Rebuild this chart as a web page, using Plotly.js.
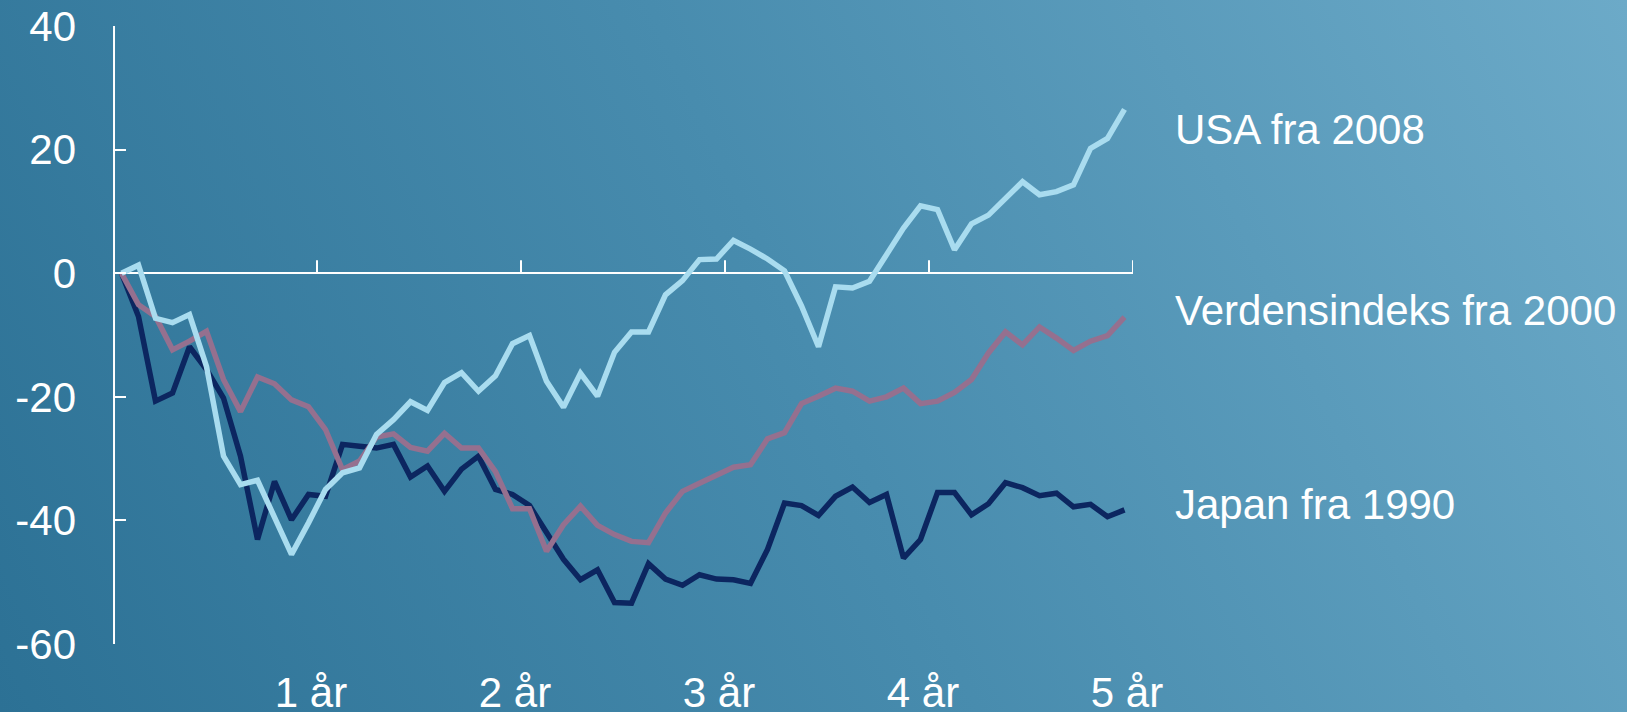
<!DOCTYPE html>
<html>
<head>
<meta charset="utf-8">
<script src="https://cdn.plot.ly/plotly-3.0.1.min.js"></script>
<style>
  html, body { margin: 0; padding: 0; }
  #chart {
    width: 1627px; height: 712px;
    background: linear-gradient(65deg, rgb(44,113,149) 0%, rgb(72,140,174) 50%, rgb(108,170,200) 100%);
  }
</style>
</head>
<body>
<div id="chart"></div>
<script>
const months = Array.from({length: 60}, (_, i) => i);

const usa2008 = [0, 1.3, -7.3, -8.0, -6.7, -15.1, -29.6, -34.2, -33.5, -39.3,
  -45.5, -40.4, -35.0, -32.3, -31.5, -26.1, -23.7, -20.8, -22.2, -17.7,
  -16.1, -19.1, -16.6, -11.4, -10.1, -17.5, -21.7, -16.2, -19.9, -12.8,
  -9.5, -9.5, -3.5, -1.2, 2.2, 2.3, 5.3, 3.9, 2.3, 0.4,
  -5.3, -11.9, -2.2, -2.4, -1.3, 3.0, 7.3, 10.9, 10.3, 3.8,
  8.0, 9.4, 12.0, 14.8, 12.7, 13.2, 14.3, 20.2, 21.8, 26.5];

const verden2000 = [0, -5.1, -7.0, -12.4, -11.0, -9.4, -17.2, -22.4, -16.8, -17.9,
  -20.5, -21.6, -25.3, -31.8, -30.4, -26.5, -26.0, -28.2, -28.8, -25.9,
  -28.3, -28.3, -32.1, -38.1, -38.1, -45.0, -40.7, -37.7, -40.8, -42.3,
  -43.4, -43.6, -38.8, -35.3, -34.0, -32.7, -31.4, -31.0, -26.8, -25.8,
  -21.1, -19.9, -18.6, -19.1, -20.7, -20.0, -18.6, -21.1, -20.7, -19.3,
  -17.2, -12.9, -9.5, -11.6, -8.7, -10.5, -12.5, -11.0, -10.1, -7.1];

const japan1990 = [0, -7.0, -20.7, -19.4, -11.9, -15.6, -20.2, -29.6, -43.1, -33.7,
  -39.9, -35.8, -36.1, -27.7, -28.0, -28.3, -27.7, -33.0, -31.2, -35.3,
  -31.7, -29.6, -35.0, -35.8, -37.6, -41.8, -46.3, -49.6, -48.0, -53.3,
  -53.4, -47.0, -49.5, -50.5, -48.8, -49.5, -49.6, -50.2, -44.7, -37.2,
  -37.6, -39.2, -36.1, -34.6, -37.1, -35.8, -46.1, -43.1, -35.5, -35.5,
  -39.1, -37.3, -33.9, -34.7, -36.0, -35.6, -37.8, -37.4, -39.4, -38.3];

const seriesNames = ['USA fra 2008', 'Verdensindeks fra 2000', 'Japan fra 1990'];
const seriesLabelY = [23.3, -6.0, -37.5];
const yearTickVals = [11.5, 23.5, 35.5, 47.5, 59.5];
const yearTickText = ['1 år', '2 år', '3 år', '4 år', '5 år'];
const yTickVals = [-60, -40, -20, 0, 20, 40];
const yTickText = ['-60', '-40', '-20', '0', '20', '40'];

const colors = ['#a9dcef', '#95708f', '#0c2660'];
const allSeries = [usa2008, verden2000, japan1990];
const FONT = '"Liberation Sans", Arial, sans-serif';

const traces = allSeries.map((vals, k) => ({
  type: 'scatter', mode: 'lines', x: months, y: vals, name: seriesNames[k],
  line: {color: colors[k], width: 5.5, shape: 'linear'},
  hoverinfo: 'skip'
})).reverse();

const shapes = yearTickVals.map(v => ({
  type: 'line', xref: 'x', yref: 'y', x0: v, x1: v,
  ysizemode: 'pixel', yanchor: 0, y0: 0, y1: 13,
  line: {color: 'white', width: 2}
}));
// y axis line
shapes.push({
  type: 'line', xref: 'x', yref: 'y', x0: -0.44, x1: -0.44, y0: -60, y1: 40,
  line: {color: 'white', width: 2}
});

const annotations = seriesNames.map((n, k) => ({
  text: n, xref: 'paper', yref: 'y', x: 1.039, y: seriesLabelY[k],
  xanchor: 'left', yanchor: 'middle', showarrow: false,
  font: {family: FONT, size: 42, color: 'white'}
}));

const layout = {
  width: 1627, height: 712,
  margin: {l: 113, r: 494, t: 26, b: 68, pad: 0},
  paper_bgcolor: 'rgba(0,0,0,0)', plot_bgcolor: 'rgba(0,0,0,0)',
  showlegend: false,
  font: {family: FONT, size: 42, color: 'white'},
  xaxis: {
    range: [-0.5, 59.5], tickvals: yearTickVals, ticktext: yearTickText,
    showgrid: false, zeroline: false, showline: false, ticks: '',
    ticklabelstandoff: 20, ticklabelshift: -6,
    tickfont: {family: FONT, size: 42, color: 'white'}
  },
  yaxis: {
    range: [-60, 40], tickvals: yTickVals, ticktext: yTickText,
    showgrid: false, zeroline: true, zerolinecolor: 'white', zerolinewidth: 2,
    showline: false,
    ticks: 'inside', ticklen: 13, tickwidth: 2, tickcolor: 'white',
    ticklabelstandoff: 36,
    tickfont: {family: FONT, size: 42, color: 'white'}
  },
  shapes: shapes,
  annotations: annotations
};

Plotly.newPlot('chart', traces, layout, {staticPlot: true, displayModeBar: false});
</script>
</body>
</html>
